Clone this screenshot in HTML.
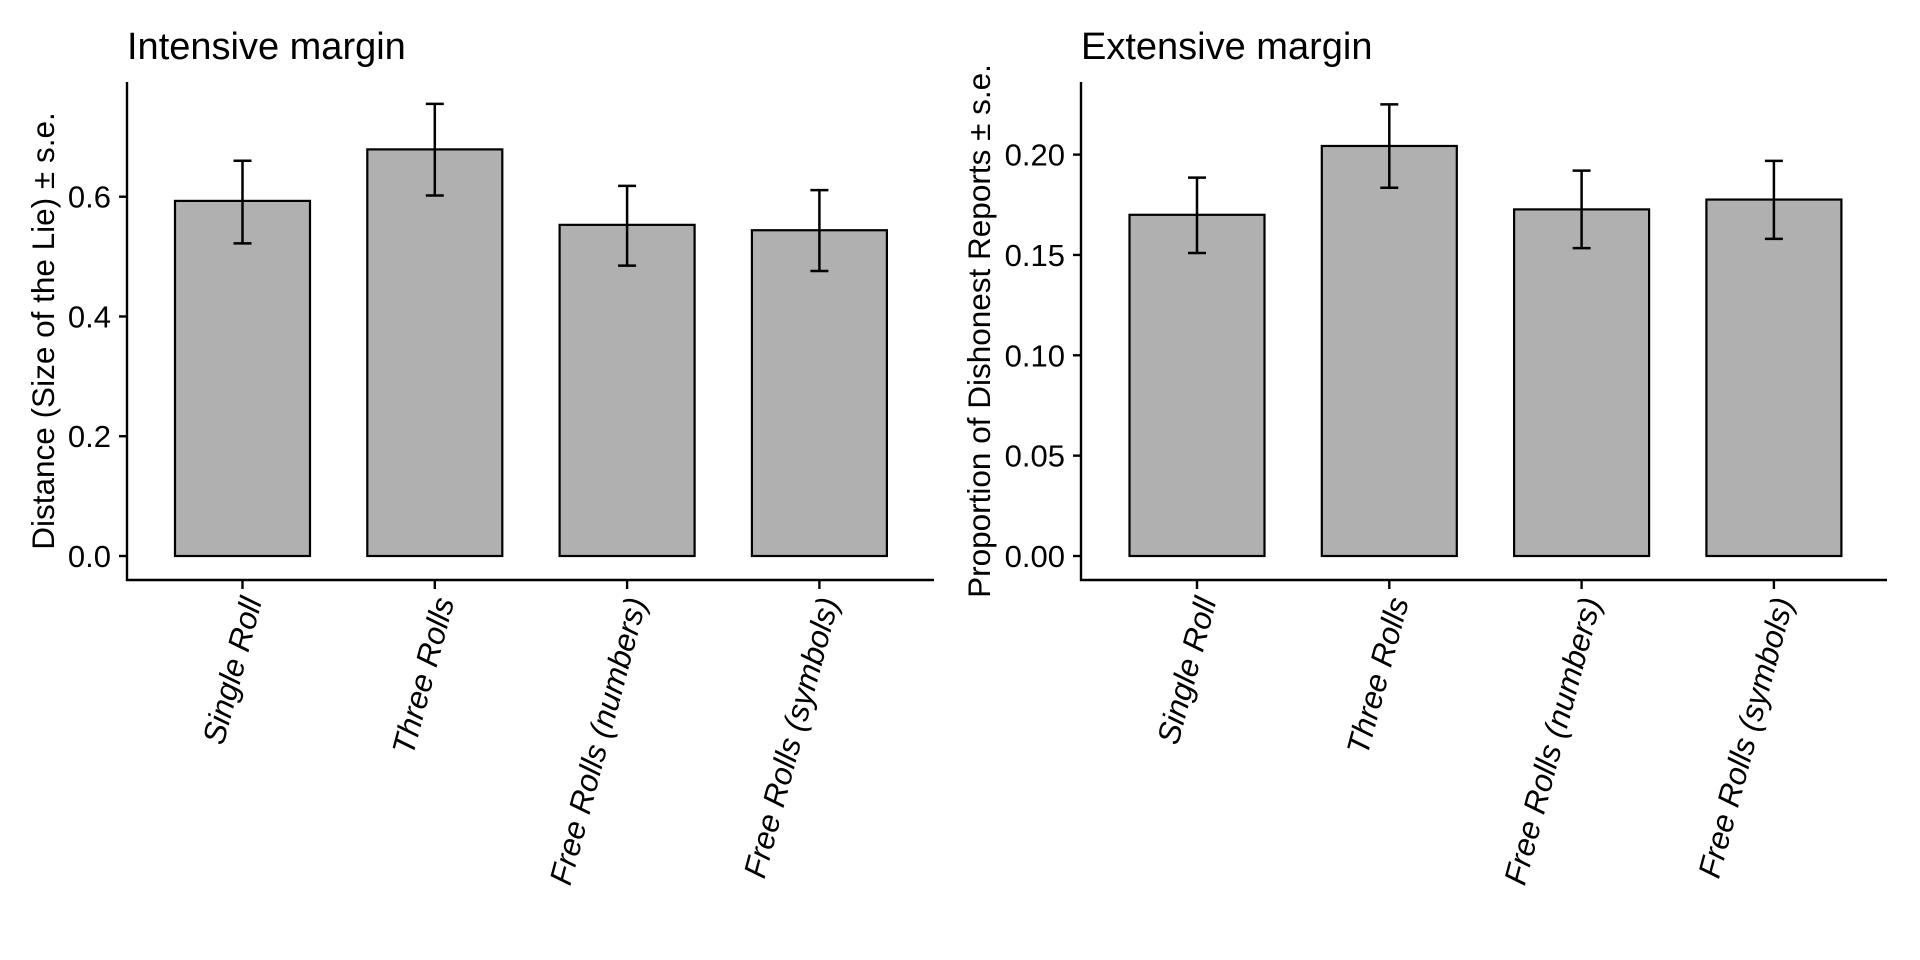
<!DOCTYPE html>
<html><head><meta charset="utf-8"><style>
body{margin:0;background:#fff;}
svg{display:block;font-family:"Liberation Sans",sans-serif;}
</style></head><body>
<svg id="chart" width="1920" height="960" xmlns="http://www.w3.org/2000/svg"></svg>
<script>
const categories = ["Single Roll","Three Rolls","Free Rolls (numbers)","Free Rolls (symbols)"];
const intensiveMean = [0.593,0.679,0.553,0.544];
const intensiveLow = [0.522,0.602,0.485,0.476];
const intensiveHigh = [0.660,0.755,0.618,0.611];
const intensiveTicks = [0.0,0.2,0.4,0.6];
const intensiveTickLabels = ["0.0","0.2","0.4","0.6"];
const extensiveMean = [0.170,0.2043,0.1727,0.1776];
const extensiveLow = [0.151,0.1835,0.1534,0.158];
const extensiveHigh = [0.1885,0.225,0.192,0.1969];
const extensiveTicks = [0.00,0.05,0.10,0.15,0.20];
const extensiveTickLabels = ["0.00","0.05","0.10","0.15","0.20"];

const NS="http://www.w3.org/2000/svg";
const svg=document.getElementById('chart');
function mk(tag,attrs,parent){const e=document.createElementNS(NS,tag);for(const k in attrs)e.setAttribute(k,attrs[k]);(parent||svg).appendChild(e);return e;}

function panel(cfg){
  const g=mk('g',{});
  
  
  const y=v=>cfg.y0-(v/cfg.vmax)*(cfg.y0-cfg.yTop);
  const x=i=>cfg.xStart+i*cfg.step;
  const bw=135;
  const t=mk('text',{x:cfg.axisX,y:59,'font-size':38,fill:'#000'},g);t.textContent=cfg.title;
  
  
  cfg.mean.forEach((v,i)=>{
    const r=mk('rect',{x:x(i)-bw/2,y:y(v),width:bw,height:y(0)-y(v),fill:'#b0b0b0',stroke:'#000','stroke-width':2.2},g);
    
    
  });
  cfg.mean.forEach((v,i)=>{
    const eg=mk('g',{stroke:'#000','stroke-width':2.5},g);
    
    
    const cx=x(i),lo=y(cfg.low[i]),hi=y(cfg.high[i]);
    mk('line',{x1:cx,x2:cx,y1:lo,y2:hi},eg);
    mk('line',{x1:cx-9,x2:cx+9,y1:lo,y2:lo},eg);
    mk('line',{x1:cx-9,x2:cx+9,y1:hi,y2:hi},eg);
  });
  const ya=mk('line',{x1:cfg.axisX,x2:cfg.axisX,y1:82,y2:581,stroke:'#000','stroke-width':2.4},g);
  
  
  const xa=mk('line',{x1:cfg.axisX-1,x2:cfg.axisRight,y1:580,y2:580,stroke:'#000','stroke-width':2.4},g);
  
  
  cfg.ticks.forEach((v,i)=>{
    mk('line',{x1:cfg.axisX-8,x2:cfg.axisX,y1:y(v),y2:y(v),stroke:'#000','stroke-width':2.4},g);
    const l=mk('text',{x:cfg.axisX-16,y:y(v)+11,'font-size':31,'text-anchor':'end',fill:'#000'},g);
    l.textContent=cfg.tickLabels[i];
    
    
  });
  categories.forEach((c,i)=>{
    mk('line',{x1:x(i),x2:x(i),y1:580,y2:589,stroke:'#000','stroke-width':2.4},g);
    const l=mk('text',{transform:`translate(${x(i)+9},${598}) rotate(-75)`,'font-size':31.5,'font-style':'italic','text-anchor':'end','dominant-baseline':'central',fill:'#000'},g);
    l.textContent=c;
    
    
  });
  const yt=mk('text',{transform:`translate(${cfg.ytX},331) rotate(-90)`,'font-size':31.5,'text-anchor':'middle',fill:'#000'},g);
  yt.textContent=cfg.ytitle;
  
  
}

panel({name:'intensive-panel',title:'Intensive margin',ytitle:'Distance (Size of the Lie) ± s.e.',
  mean:intensiveMean,low:intensiveLow,high:intensiveHigh,ticks:intensiveTicks,tickLabels:intensiveTickLabels,
  vmax:0.6,y0:556,yTop:196.7,axisX:127,axisRight:934,xStart:242.5,step:192.3,ytX:54});
panel({name:'extensive-panel',title:'Extensive margin',ytitle:'Proportion of Dishonest Reports ± s.e.',
  mean:extensiveMean,low:extensiveLow,high:extensiveHigh,ticks:extensiveTicks,tickLabels:extensiveTickLabels,
  vmax:0.2,y0:556,yTop:154.6,axisX:1081,axisRight:1887,xStart:1197,step:192.3,ytX:990});
</script>
</body></html>
